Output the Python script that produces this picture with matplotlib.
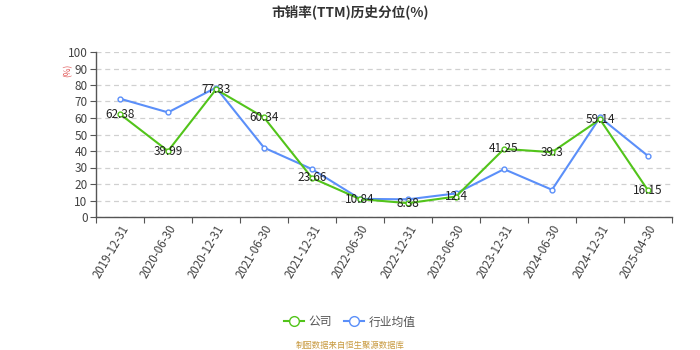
import matplotlib
matplotlib.use("Agg")
import matplotlib.pyplot as plt
import numpy as np

plt.rcParams["font.family"] = ["Noto Sans CJK SC", "DejaVu Sans"]

dates = [
    "2019-12-31", "2020-06-30", "2020-12-31", "2021-06-30",
    "2021-12-31", "2022-06-30", "2022-12-31", "2023-06-30",
    "2023-12-31", "2024-06-30", "2024-12-31", "2025-04-30",
]
company = [62.38, 39.99, 77.33, 60.34, 23.66, 10.84, 8.38, 12.4, 41.25, 39.3, 59.14, 16.15]
industry = [71.7, 63.4, 78.4, 42.0, 29.0, 11.0, 10.7, 14.3, 29.0, 16.5, 60.4, 37.0]
y_ticks = list(range(0, 101, 10))

GREEN = "#52c41a"
BLUE = "#5b8ff9"

fig = plt.figure(figsize=(7, 3.5), dpi=100)
ax = fig.add_axes([96 / 700, 1 - 217 / 350, 576 / 700, 165 / 350])

x = np.arange(len(dates))
ax.plot(x, industry, color=BLUE, lw=1.5, marker="o", ms=3.5,
        mfc="white", mec=BLUE, mew=1, label="行业均值", zorder=3)
ax.plot(x, company, color=GREEN, lw=1.5, marker="o", ms=3.5,
        mfc="white", mec=GREEN, mew=1, label="公司", zorder=4)

# value labels for the company series
for xi, v in zip(x, company):
    ax.text(xi, v, f"{v:g}", ha="center", va="center", fontsize=8.5,
            color="#222222", zorder=5)

ax.set_xlim(-0.5, len(dates) - 0.5)
ax.set_ylim(0, 100)
ax.set_yticks(y_ticks)
# tick marks on category boundaries, labels at category centres
ax.set_xticks(np.arange(len(dates) + 1) - 0.5, minor=False)
ax.set_xticklabels([])
ax.set_xticks(x, minor=True)
ax.set_xticklabels(dates, minor=True, rotation=60, ha="right",
                   rotation_mode="anchor", fontsize=8.3, color="#444444")
ax.tick_params(axis="x", which="minor", length=0, pad=4)
ax.tick_params(axis="x", which="major", length=4, color="#555555")
ax.tick_params(axis="y", length=4, color="#555555", labelsize=8.5,
               labelcolor="#444444", pad=2)

ax.grid(axis="y", color="#d0d0d0", ls=(0, (4, 3)), lw=0.9)
ax.set_axisbelow(True)
for side in ("top", "right"):
    ax.spines[side].set_visible(False)
for side in ("left", "bottom"):
    ax.spines[side].set_color("#555555")
    ax.spines[side].set_linewidth(1)

fig.text(68 / 700, 1 - 70 / 350, "(%)", color="#e05050", fontsize=6,
         rotation=90, ha="center", va="center")

fig.text(350 / 700, 1 - 12 / 350, "市销率(TTM)历史分位(%)", ha="center",
         va="center", fontsize=9.8, fontweight="bold", color="#333333")

handles, labels = ax.get_legend_handles_labels()
leg = fig.legend(handles[::-1], labels[::-1], loc="center",
                 bbox_to_anchor=(350 / 700, 1 - 322 / 350), ncol=2,
                 frameon=False, fontsize=8.5, handlelength=1.7,
                 columnspacing=1.0, handletextpad=0.4, markerscale=2)
for t in leg.get_texts():
    t.set_color("#555555")

fig.text(350 / 700, 1 - 345 / 350, "制图数据来自恒生聚源数据库", ha="center",
         va="center", fontsize=6, color="#c89a40")

fig.savefig("out.png", dpi=100)
